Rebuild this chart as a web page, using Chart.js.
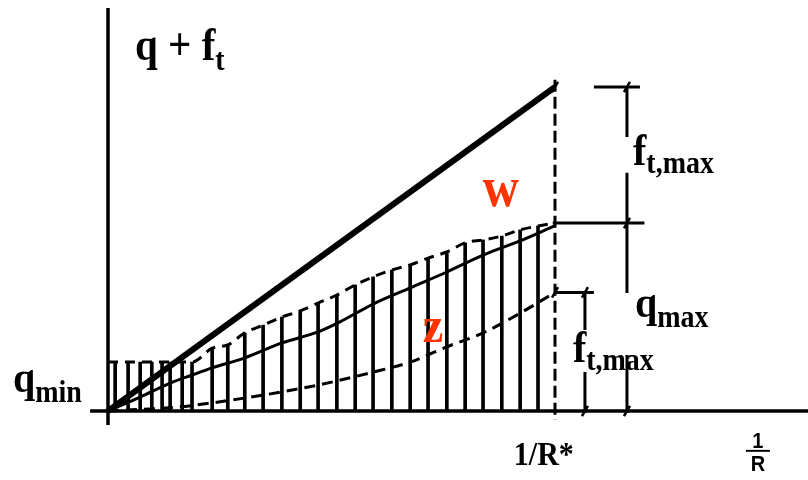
<!DOCTYPE html>
<html>
<head>
<meta charset="utf-8">
<script src="https://cdn.jsdelivr.net/npm/chart.js@4.4.0/dist/chart.umd.min.js"></script>
<style>
  html, body { margin: 0; padding: 0; background: #fff; }
  #wrap { width: 808px; height: 480px; }
</style>
</head>
<body>
<div id="wrap"><canvas id="chart" width="808" height="480"></canvas></div>
<script>
// x = 1/R (scaled so that 1/R* = 1), y = q + f_t (scaled so that the max at 1/R* = 1)
const rStar = 1;
const sumMax = 1;
const qMin = 0.151;
const qMax = 0.58;
const ftMax = 0.366;

// vertical hatch lines and their tops (upper dashed envelope)
const hatchX = [0.016, 0.045, 0.072, 0.098, 0.121, 0.139, 0.166, 0.188, 0.233, 0.268,
  0.306, 0.347, 0.389, 0.430, 0.470, 0.512, 0.553, 0.593, 0.635, 0.676,
  0.716, 0.758, 0.799, 0.839, 0.881, 0.922, 0.962];
const hatchTop = [0.151, 0.151, 0.151, 0.151, 0.151, 0.151, 0.151, 0.151, 0.194, 0.204,
  0.241, 0.265, 0.290, 0.309, 0.333, 0.358, 0.389, 0.414, 0.435, 0.451,
  0.472, 0.491, 0.519, 0.528, 0.540, 0.559, 0.571];

// q curve (solid)
const qX = [0, 0.072, 0.139, 0.188, 0.233, 0.306, 0.389, 0.470, 0.519, 0.593, 0.676, 0.758, 0.839, 0.922, 1.0];
const qY = [0, 0.043, 0.086, 0.111, 0.133, 0.164, 0.210, 0.244, 0.275, 0.330, 0.380, 0.429, 0.481, 0.525, 0.572];

// f_t curve (dashed)
const ftX = [0, 0.154, 0.233, 0.306, 0.389, 0.470, 0.593, 0.676, 0.758, 0.839, 0.922, 1.0];
const ftY = [0, 0.012, 0.025, 0.040, 0.059, 0.080, 0.120, 0.151, 0.198, 0.241, 0.302, 0.366];

const pts = (xs, ys) => xs.map((x, i) => ({ x: x, y: ys[i] }));
const gap = { x: 1.1, y: null };

// dimension lines right of 1/R*
const dimA = 1.161;   // q_max / f_t,max column
const dimB = 1.067;   // lower f_t,max column
const dimLines = [
  { x: 1.087, y: sumMax }, { x: 1.19, y: sumMax }, gap,
  { x: dimA, y: sumMax }, { x: dimA, y: 0.846 }, gap,
  { x: dimA, y: 0.735 }, { x: dimA, y: 0.364 }, gap,
  { x: dimA, y: 0.173 }, { x: dimA, y: -0.006 }, gap,
  { x: 0.995, y: qMax }, { x: 1.2, y: qMax }, gap,
  { x: rStar, y: ftMax }, { x: 1.087, y: ftMax }, gap,
  { x: dimB, y: ftMax }, { x: dimB, y: 0.25 }, gap,
  { x: dimB, y: 0.12 }, { x: dimB, y: -0.006 }
];
const tickMarks = [
  { x: dimA, y: sumMax }, { x: dimA, y: qMax }, { x: dimB, y: ftMax }, { x: rStar, y: ftMax },
  { x: dimB, y: 0 }, { x: dimA, y: 0 }, { x: rStar, y: sumMax }
];

const TEXT_STRETCH = 1.12;
const SERIF = '"Liberation Serif", "Times New Roman", serif';

function stretchedText(ctx, txt, x, y, font, color, align) {
  ctx.save();
  ctx.font = font;
  ctx.fillStyle = color || '#000';
  ctx.textAlign = align || 'left';
  ctx.textBaseline = 'alphabetic';
  ctx.translate(x, y);
  ctx.scale(1, TEXT_STRETCH);
  ctx.fillText(txt, 0, 0);
  ctx.restore();
}

function subText(ctx, x, y, main, sub, size, subSize, drop) {
  const f1 = 'bold ' + size + 'px ' + SERIF;
  const f2 = 'bold ' + subSize + 'px ' + SERIF;
  ctx.save();
  ctx.font = f1;
  const w = ctx.measureText(main).width;
  ctx.restore();
  stretchedText(ctx, main, x, y, f1);
  stretchedText(ctx, sub, x + w, y + drop, f2);
}

const labelsPlugin = {
  id: 'labels',
  afterDatasetsDraw(chart) {
    const ctx = chart.ctx;
    const sx = chart.scales.x, sy = chart.scales.y;
    const px = v => sx.getPixelForValue(v);
    const py = v => sy.getPixelForValue(v);

    subText(ctx, px(0.0604), py(1.083), 'q + f', 't', 41, 28, 10);
    subText(ctx, px(-0.2125), py(0.0586), 'q', 'min', 40, 28, 10);
    subText(ctx, px(1.1745), py(0.759), 'f', 't,max', 40, 28, 8);
    subText(ctx, px(1.179), py(0.290), 'q', 'max', 40, 28, 10);
    subText(ctx, px(1.040), py(0.151), 'f', 't,max', 40, 28, 8);

    stretchedText(ctx, '1/R*', px(0.975), py(-0.167), 'bold 30px ' + SERIF, '#000', 'center');

    // 1 over R
    const cx = px(1.454), cy = py(-0.123);
    stretchedText(ctx, '1', cx, cy - 3, 'bold 20px "Liberation Sans", Arial, sans-serif', '#000', 'center');
    ctx.save();
    ctx.strokeStyle = '#000';
    ctx.lineWidth = 2;
    ctx.beginPath();
    ctx.moveTo(cx - 12, cy);
    ctx.lineTo(cx + 12, cy);
    ctx.stroke();
    ctx.restore();
    stretchedText(ctx, 'R', cx, cy + 20, 'bold 20px "Liberation Sans", Arial, sans-serif', '#000', 'center');

    stretchedText(ctx, 'w', px(0.879), py(0.633), 'bold 50px ' + SERIF, '#ff3300', 'center');
    stretchedText(ctx, 'z', px(0.727), py(0.213), 'bold 46px ' + SERIF, '#ff3300', 'center');
  }
};

const ctx = document.getElementById('chart').getContext('2d');
new Chart(ctx, {
  type: 'line',
  data: {
    datasets: [
      {
        type: 'bar',
        label: 'hatch',
        data: pts(hatchX, hatchTop),
        backgroundColor: '#000',
        borderWidth: 0,
        barThickness: 3
      },
      {
        label: 'envelope',
        data: [{ x: 0, y: qMin }].concat(pts(hatchX, hatchTop), [{ x: rStar, y: qMax }]),
        borderColor: '#000',
        borderWidth: 3,
        borderDash: [10, 7],
        cubicInterpolationMode: 'monotone'
      },
      {
        label: 'q',
        data: pts(qX, qY),
        borderColor: '#000',
        borderWidth: 3,
        cubicInterpolationMode: 'monotone'
      },
      {
        label: 'f_t',
        data: pts(ftX, ftY),
        borderColor: '#000',
        borderWidth: 3,
        borderDash: [11, 7],
        cubicInterpolationMode: 'monotone'
      },
      {
        label: 'q + f_t',
        data: [{ x: 0, y: 0 }, { x: rStar, y: sumMax }],
        borderColor: '#000',
        borderWidth: 6
      },
      {
        label: '1/R*',
        data: [{ x: rStar, y: 1.022 }, { x: rStar, y: -0.028 }],
        borderColor: '#000',
        borderWidth: 3,
        borderDash: [12, 5]
      },
      {
        label: 'dims',
        data: dimLines,
        borderColor: '#000',
        borderWidth: 3,
        spanGaps: false
      },
      {
        label: 'ticks',
        data: tickMarks,
        showLine: false,
        pointStyle: 'line',
        rotation: -60,
        pointRadius: 6,
        pointBorderWidth: 2.5,
        pointBorderColor: '#000'
      },
      {
        label: 'y axis',
        data: [{ x: 0, y: -0.043 }, { x: 0, y: 1.244 }],
        borderColor: '#000',
        borderWidth: 3.5
      },
      {
        label: 'x axis',
        data: [{ x: -0.04, y: 0 }, { x: 1.566, y: 0 }],
        borderColor: '#000',
        borderWidth: 3.5
      }
    ]
  },
  options: {
    responsive: false,
    animation: false,
    layout: { padding: 0, autoPadding: false },
    elements: { point: { radius: 0 } },
    plugins: {
      legend: { display: false },
      tooltip: { enabled: false }
    },
    scales: {
      x: { type: 'linear', min: -0.2416, max: 1.566, display: false, offset: false },
      y: { type: 'linear', min: -0.213, max: 1.2685, display: false }
    }
  },
  plugins: [labelsPlugin]
});
</script>
</body>
</html>
